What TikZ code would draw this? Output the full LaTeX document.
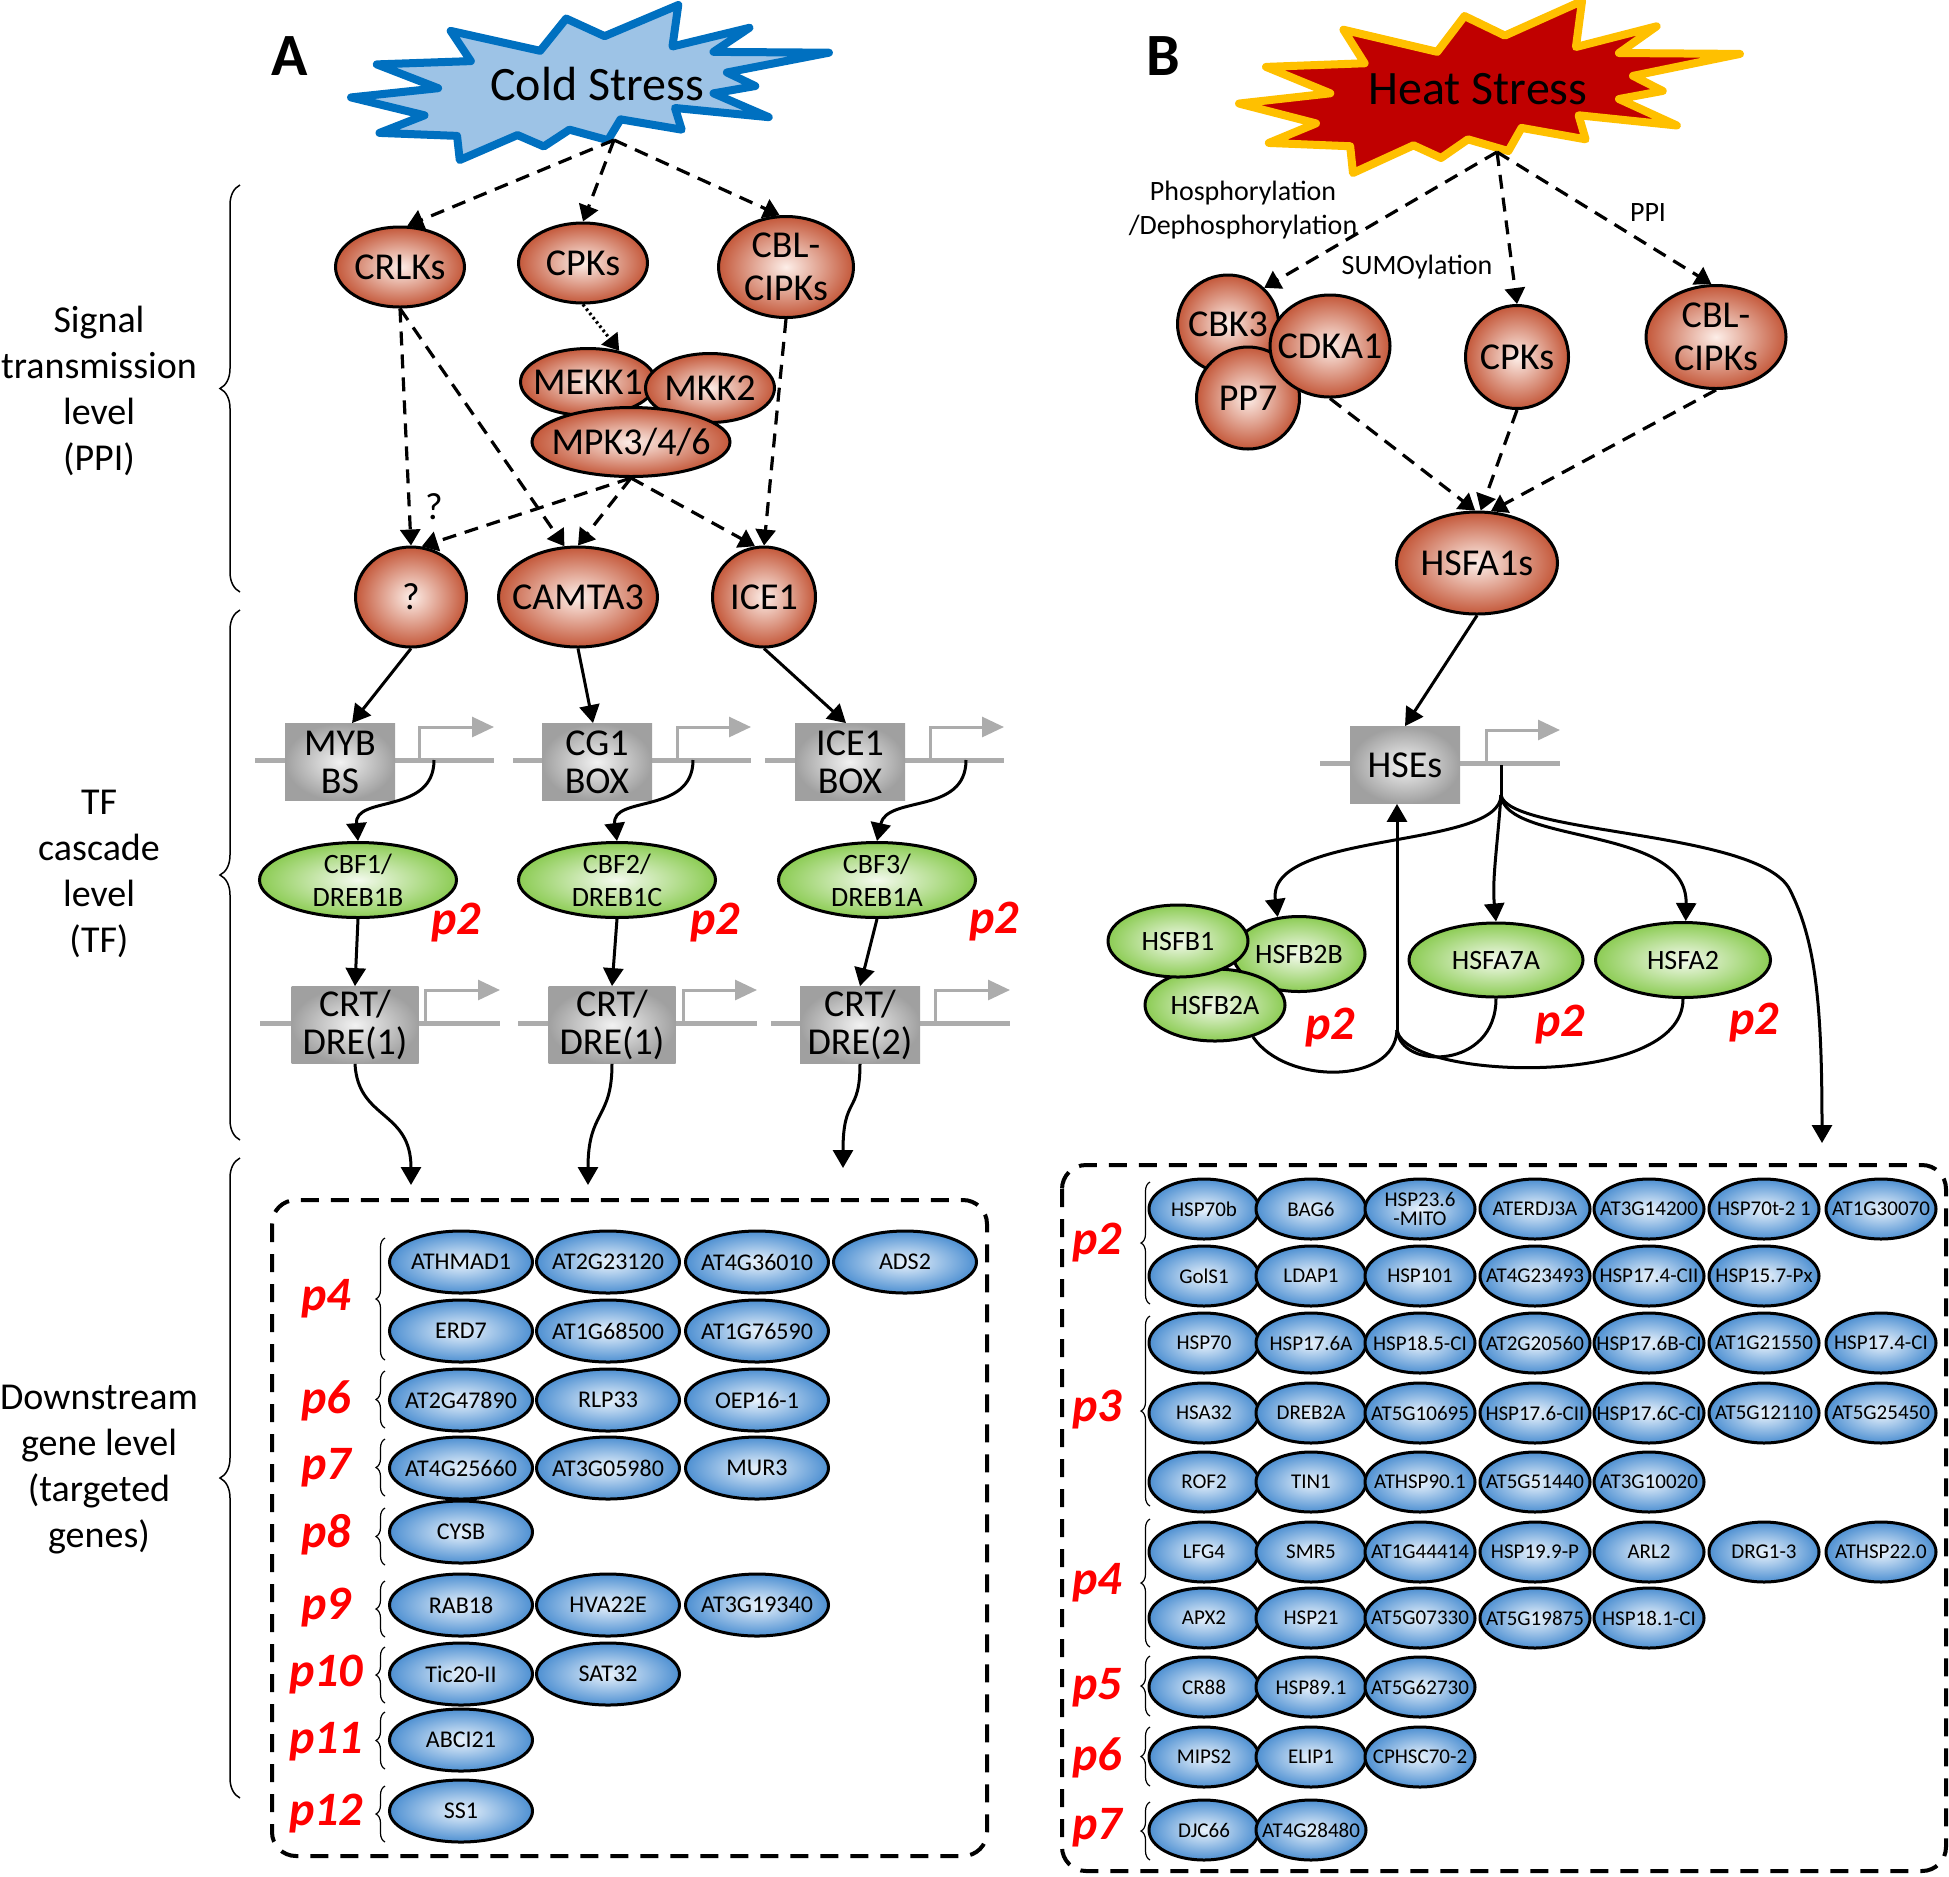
\documentclass[tikz,border=0pt]{standalone}
\usepackage{fontspec}
\setmainfont{Carlito}
\usetikzlibrary{shapes.geometric,arrows.meta,decorations.pathreplacing,calc}
\definecolor{redout}{RGB}{196,88,58}
\definecolor{redin}{RGB}{253,238,232}
\definecolor{grnout}{RGB}{140,204,84}
\definecolor{grnin}{RGB}{244,250,238}
\definecolor{bluout}{RGB}{78,144,210}
\definecolor{bluin}{RGB}{234,243,252}
\definecolor{boxout}{RGB}{160,160,160}
\definecolor{boxin}{RGB}{242,242,242}
\definecolor{sitegray}{RGB}{172,172,172}
\definecolor{coldfill}{RGB}{157,195,230}
\definecolor{coldline}{RGB}{0,112,192}
\definecolor{heatfill}{RGB}{192,0,0}
\definecolor{heatline}{RGB}{255,192,0}
\definecolor{pred}{RGB}{255,0,0}
\newcommand{\explosion}[5]{
	\begin{scope}[shift={(#1,#2)}, xscale=#3/100, yscale=#4/100]
	\draw[#5] (45.01,8.74) -- (39.57,29.55) -- (20.85,16.71) -- (25.07,36.19) -- (5.39,38.31) -- (18.23,53.67) -- (0,59.62) -- (15.37,71.16) -- (5.95,82.52) -- (22.19,84.44) -- (22.75,100) -- (34.83,83.91) -- (40.33,91.26) -- (45.70,80.42) -- (53.76,87.23) -- (56.39,73.77) -- (69.18,80.42) -- (67.78,66.44) -- (87.40,72.37) -- (75.84,56.99) -- (84.58,52.27) -- (78.64,43.53) -- (100,30.76) -- (75.84,30.24) -- (83.36,14.69) -- (67.25,26.75) -- (68.47,0) -- (53.06,20.10) -- cycle;
	\end{scope}
}
\newcommand{\promoter}[4]{
	\draw[siteline] (#1,#3) -- (#2,#3);
	\draw[promarrow] (#4,#3) -- (#4,#3-33) -- (#2,#3-33);
}
\newcommand{\geneL}[4]{\node[gene, sz={143}{62}, label={[genetextL]center:{#4}}] (#1) at (#2,#3) {};}
\newcommand{\geneR}[4]{\node[gene, sz={110}{60}, label={[genetextR]center:{#4}}] (#1) at (#2,#3) {};}
\tikzset{
	kinase/.style={ellipse, draw=black, line width=1.5pt, inner color=redin, outer color=redout, inner sep=0pt},
	tfnode/.style={ellipse, draw=black, line width=1.5pt, inner color=grnin, outer color=grnout, inner sep=0pt},
	gene/.style={ellipse, draw=black, line width=1.5pt, inner color=bluin, outer color=bluout, inner sep=0pt},
	sitebox/.style={rectangle, inner color=boxin, outer color=boxout, inner sep=0pt, align=center, font=\fontsize{19}{19}\selectfont},
	sz/.style 2 args={minimum width=#1*0.5pt, minimum height=#2*0.5pt},
	kintext/.style={font=\fontsize{19}{21.5}\selectfont, align=center},
	tftext/.style={font=\fontsize{14}{16.5}\selectfont, align=center},
	genetextL/.style={font=\fontsize{12}{12}\selectfont},
	genetextR/.style={font=\fontsize{10.5}{9.5}\selectfont, align=center},
	plabel/.style={font=\fontsize{24}{24}\selectfont\bfseries\itshape, text=pred},
	dasharrow/.style={line width=1.6pt, dash pattern=on 7pt off 4.5pt, -{Triangle[length=8pt,width=10pt]}},
	dotarrow/.style={line width=1.6pt, dash pattern=on 1.2pt off 1.5pt, -{Triangle[length=8pt,width=10pt]}},
	solidarrow/.style={line width=1.5pt, -{Triangle[length=9pt,width=10pt]}},
	siteline/.style={sitegray, line width=2.5pt},
	promarrow/.style={sitegray, line width=1.5pt, -{Triangle[length=11pt,width=10pt]}},
	dashbox/.style={line width=2pt, dash pattern=on 9pt off 6pt, rounded corners=12pt},
	levelbrace/.style={decorate, decoration={brace, amplitude=10pt}, line width=0.75pt},
	pbrace/.style={decorate, decoration={brace, amplitude=4.5pt}, line width=0.6pt},
	leveltext/.style={font=\fontsize{19}{23}\selectfont, align=center},
	annot/.style={font=\fontsize{14}{17}\selectfont, align=center},
}

\begin{document}
\begin{tikzpicture}[x=0.5pt,y=-0.5pt]
	\useasboundingbox (0,0) rectangle (1949,1876);

	% levels
	\node[leveltext] (lvsignal) at (99,391) {Signal\\transmission\\level\\(PPI)};
	\node[leveltext] (lvtf) at (99,874) {TF\\cascade\\level\\(TF)};
	\node[leveltext] (lvgene) at (99,1470) {Downstream\\gene level\\(targeted\\genes)};
	\draw[levelbrace] (240,592) -- (240,185);
	\draw[levelbrace] (240,1140) -- (240,610);
	\draw[levelbrace] (240,1798) -- (240,1158);

	% panel A
	\node[font=\fontsize{30}{30}\selectfont\bfseries] (labA) at (290,56) {A};
	\explosion{351}{5}{478}{155}{fill=coldfill, draw=coldline, line width=4pt, line join=round}
	\node[font=\fontsize{24}{24}\selectfont] (cold) at (597,84) {Cold Stress};
	\coordinate (coldout) at (614,140);

	\node[kinase, sz={129}{80}, label={[kintext]center:CRLKs}] (crlks) at (400,267) {};
	\node[kinase, sz={129}{80}, label={[kintext]center:CPKs}] (cpksL) at (583,263) {};
	\node[kinase, sz={135}{101}, label={[kintext]center:{CBL-\\CIPKs}}] (cblL) at (786,267) {};
	\node[kinase, sz={135}{67}, label={[kintext]center:MEKK1}] (mekk) at (588,382) {};
	\node[kinase, sz={129}{69}, label={[kintext]center:MKK2}] (mkk) at (710,388) {};
	\node[kinase, sz={198}{69}, label={[kintext]center:MPK3/4/6}] (mpk) at (631,442) {};
	\node[kinase, sz={111}{100}, label={[kintext]center:?}] (unk) at (411,597) {};
	\node[kinase, sz={159}{100}, label={[kintext]center:CAMTA3}] (camta) at (578,597) {};
	\node[kinase, sz={103}{100}, label={[kintext]center:ICE1}] (ice) at (764,597) {};
	\node[font=\fontsize{19}{19}\selectfont] (qmark) at (434,507) {?};

	\draw[dasharrow] (coldout) -- (crlks.80);
	\draw[dasharrow] (coldout) -- (cpksL.north);
	\draw[dasharrow] (coldout) -- (cblL.97);
	\draw[dasharrow] (crlks.south) -- (unk.north);
	\draw[dasharrow] (crlks.south) -- (camta.105);
	\draw[dotarrow] (cpksL.south) -- (mekk.45);
	\draw[dasharrow] (mpk.south) -- (unk.78);
	\draw[dasharrow] (mpk.south) -- (camta.north);
	\draw[dasharrow] (mpk.south) -- (ice.100);
	\draw[dasharrow] (cblL.south) -- (ice.north);

	\promoter{255}{494}{760}{419}
	\promoter{513}{751}{760}{677}
	\promoter{765}{1004}{760}{930}
	\promoter{260}{500}{1023}{425}
	\promoter{518}{757}{1023}{683}
	\promoter{771}{1010}{1023}{935}
	\node[sitebox, sz={110}{77}] (mybbox) at (340,762) {MYB\\BS};
	\node[sitebox, sz={110}{77}] (cg1box) at (597,762) {CG1\\BOX};
	\node[sitebox, sz={110}{77}] (icebox) at (850,762) {ICE1\\BOX};
	\node[sitebox, sz={127}{77}] (crt1) at (355,1025) {CRT/\\DRE(1)};
	\node[sitebox, sz={127}{77}] (crt2) at (612,1025) {CRT/\\DRE(1)};
	\node[sitebox, sz={120}{77}] (crt3) at (860,1025) {CRT/\\DRE(2)};
	\coordinate (mybout) at (434,760);
	\coordinate (cg1out) at (693,760);
	\coordinate (iceout) at (966,760);

	\node[tfnode, sz={197}{75}, label={[tftext]center:{CBF1/\\DREB1B}}] (cbf1) at (358,880) {};
	\node[tfnode, sz={197}{75}, label={[tftext]center:{CBF2/\\DREB1C}}] (cbf2) at (617,880) {};
	\node[tfnode, sz={197}{75}, label={[tftext]center:{CBF3/\\DREB1A}}] (cbf3) at (877,880) {};
	\node[plabel] (pcbf1) at (456,923) {p2};
	\node[plabel] (pcbf2) at (715,923) {p2};
	\node[plabel] (pcbf3) at (994,922) {p2};

	\draw[solidarrow] (unk.south) -- ([xshift=6pt]mybbox.north);
	\draw[solidarrow] (camta.south) -- ([xshift=-2pt]cg1box.north);
	\draw[solidarrow] (ice.south) -- ([xshift=-2pt]icebox.north);
	\draw[solidarrow] (mybout) .. controls (434,815) and (354,795) .. (cbf1.north);
	\draw[solidarrow] (cg1out) .. controls (693,815) and (611,795) .. (cbf2.north);
	\draw[solidarrow] (iceout) .. controls (966,815) and (887,795) .. (cbf3.north);
	\draw[solidarrow] (cbf1.south) -- (crt1.north);
	\draw[solidarrow] (cbf2.south) -- (crt2.north);
	\draw[solidarrow] (cbf3.south) -- (crt3.north);

	\coordinate (dA1) at (411,1185);
	\coordinate (dA2) at (588,1185);
	\coordinate (dA3) at (843,1168);
	\draw[solidarrow] (crt1.south) .. controls (358,1120) and (411,1110) .. (dA1);
	\draw[solidarrow] (crt2.south) .. controls (612,1120) and (588,1110) .. (dA2);
	\draw[solidarrow] (crt3.south) .. controls (860,1115) and (843,1095) .. (dA3);

	\draw[dashbox] (272,1200) rectangle (987,1856);
	\geneL{ga1}{461}{1262}{ATHMAD1}
	\geneL{ga2}{608}{1262}{AT2G23120}
	\geneL{ga3}{757}{1262}{AT4G36010}
	\geneL{ga4}{905}{1262}{ADS2}
	\geneL{ga5}{461}{1331}{ERD7}
	\geneL{ga6}{608}{1331}{AT1G68500}
	\geneL{ga7}{757}{1331}{AT1G76590}
	\geneL{ga8}{461}{1400}{AT2G47890}
	\geneL{ga9}{608}{1400}{RLP33}
	\geneL{ga10}{757}{1400}{OEP16-1}
	\geneL{ga11}{461}{1468}{AT4G25660}
	\geneL{ga12}{608}{1468}{AT3G05980}
	\geneL{ga13}{757}{1468}{MUR3}
	\geneL{ga14}{461}{1532}{CYSB}
	\geneL{ga15}{461}{1605}{RAB18}
	\geneL{ga16}{608}{1605}{HVA22E}
	\geneL{ga17}{757}{1605}{AT3G19340}
	\geneL{ga18}{461}{1674}{Tic20-II}
	\geneL{ga19}{608}{1674}{SAT32}
	\geneL{ga20}{461}{1740}{ABCI21}
	\geneL{ga21}{461}{1811}{SS1}

	\node[plabel] (pa4) at (326,1299) {p4};
	\node[plabel] (pa6) at (326,1401) {p6};
	\node[plabel] (pa7) at (326,1468) {p7};
	\node[plabel] (pa8) at (326,1535) {p8};
	\node[plabel] (pa9) at (326,1608) {p9};
	\node[plabel] (pa10) at (326,1675) {p10};
	\node[plabel] (pa11) at (326,1742) {p11};
	\node[plabel] (pa12) at (326,1814) {p12};
	\draw[pbrace] (385,1360) -- (385,1238);
	\draw[pbrace] (385,1428) -- (385,1371);
	\draw[pbrace] (385,1496) -- (385,1439);
	\draw[pbrace] (385,1565) -- (385,1508);
	\draw[pbrace] (385,1637) -- (385,1581);
	\draw[pbrace] (385,1703) -- (385,1647);
	\draw[pbrace] (385,1769) -- (385,1712);
	\draw[pbrace] (385,1842) -- (385,1786);

	% panel B
	\node[font=\fontsize{30}{30}\selectfont\bfseries] (labB) at (1163,56) {B};
	\explosion{1239}{1}{501}{172}{fill=heatfill, draw=heatline, line width=4pt, line join=round}
	\node[font=\fontsize{24}{24}\selectfont] (heat) at (1478,89) {Heat Stress};
	\coordinate (heatout) at (1497,152);

	\node[annot] (phos) at (1243,210) {Phosphorylation\\/Dephosphorylation};
	\node[annot] (sumo) at (1417,267) {SUMOylation};
	\node[annot] (ppi) at (1648,213) {PPI};

	\node[kinase, sz={101}{98}, label={[kintext]center:CBK3}] (cbk) at (1228,324) {};
	\node[kinase, sz={103}{102}, label={[kintext]center:PP7}] (pp) at (1248,398) {};
	\node[kinase, sz={120}{102}, label={[kintext]center:CDKA1}] (cdka) at (1330,346) {};
	\node[kinase, sz={103}{103}, label={[kintext]center:CPKs}] (cpksR) at (1517,357) {};
	\node[kinase, sz={140}{103}, label={[kintext]center:{CBL-\\CIPKs}}] (cblR) at (1716,337) {};
	\node[kinase, sz={161}{102}, label={[kintext]center:HSFA1s}] (hsfa1) at (1477,563) {};

	\draw[dasharrow] (heatout) -- (cbk.45);
	\draw[dasharrow] (heatout) -- (cpksR.north);
	\draw[dasharrow] (heatout) -- (cblR.95);
	\draw[dasharrow] (cdka.south) -- (hsfa1.92);
	\draw[dasharrow] (cpksR.south) -- (hsfa1.86);
	\draw[dasharrow] (cblR.south) -- (hsfa1.75);

	\promoter{1320}{1560}{763}{1486}
	\node[sitebox, sz={110}{77}] (hsesbox) at (1405,765) {HSEs};
	\draw[solidarrow] (hsfa1.south) -- (hsesbox.north);

	\node[tfnode, sz={132}{75}, label={[tftext]center:HSFB2B}] (hsfb2b) at (1299,954) {};
	\node[tfnode, sz={140}{72}, label={[tftext]center:HSFB2A}] (hsfb2a) at (1215,1005) {};
	\node[tfnode, sz={140}{72}, label={[tftext]center:HSFB1}] (hsfb1) at (1178,941) {};
	\node[tfnode, sz={174}{74}, label={[tftext]center:HSFA7A}] (hsfa7a) at (1496,960) {};
	\node[tfnode, sz={175}{75}, label={[tftext]center:HSFA2}] (hsfa2) at (1683,960) {};
	\node[plabel] (phsfb) at (1330,1028) {p2};
	\node[plabel] (phsfa7) at (1560,1025) {p2};
	\node[plabel] (phsfa2) at (1754,1023) {p2};

	\coordinate (hsesout) at (1501,765);
	\coordinate (fork) at (1501,795);
	\coordinate (dB) at (1822,1143);
	\coordinate (upjoin) at (1397,1030);
	\draw[line width=1.5pt] (hsesout) -- (fork);
	\draw[solidarrow] (fork) .. controls (1501,850) and (1266,830) .. (hsfb2b.120);
	\draw[solidarrow] (fork) .. controls (1497,850) and (1492,880) .. (hsfa7a.north);
	\draw[solidarrow] (fork) .. controls (1505,845) and (1688,825) .. (hsfa2.86);
	\draw[solidarrow] (fork) .. controls (1508,835) and (1760,830) .. (1790,890) .. controls (1815,940) and (1822,1000) .. (dB);
	\draw[line width=1.5pt] (hsfb2a.-40) .. controls (1285,1085) and (1395,1085) .. (upjoin);
	\draw[line width=1.5pt] (hsfa7a.south) .. controls (1496,1070) and (1400,1070) .. (upjoin);
	\draw[line width=1.5pt] (hsfa2.south) .. controls (1683,1090) and (1405,1080) .. (upjoin);
	\draw[solidarrow] (upjoin) -- ([xshift=-4pt]hsesbox.south);

	\draw[dashbox] (1062,1165) rectangle (1946,1871);
	\geneR{gb1}{1204}{1209}{HSP70b}
	\geneR{gb2}{1311}{1209}{BAG6}
	\geneR{gb3}{1420}{1209}{HSP23.6\\-MITO}
	\geneR{gb4}{1535}{1209}{ATERDJ3A}
	\geneR{gb5}{1649}{1209}{AT3G14200}
	\geneR{gb6}{1764}{1209}{HSP70t-2 1}
	\geneR{gb7}{1881}{1209}{AT1G30070}
	\geneR{gb8}{1204}{1276}{GolS1}
	\geneR{gb9}{1311}{1276}{LDAP1}
	\geneR{gb10}{1420}{1276}{HSP101}
	\geneR{gb11}{1535}{1276}{AT4G23493}
	\geneR{gb12}{1649}{1276}{HSP17.4-CII}
	\geneR{gb13}{1764}{1276}{HSP15.7-Px}
	\geneR{gb14}{1204}{1343}{HSP70}
	\geneR{gb15}{1311}{1343}{HSP17.6A}
	\geneR{gb16}{1420}{1343}{HSP18.5-CI}
	\geneR{gb17}{1535}{1343}{AT2G20560}
	\geneR{gb18}{1649}{1343}{HSP17.6B-CI}
	\geneR{gb19}{1764}{1343}{AT1G21550}
	\geneR{gb20}{1881}{1343}{HSP17.4-CI}
	\geneR{gb21}{1204}{1413}{HSA32}
	\geneR{gb22}{1311}{1413}{DREB2A}
	\geneR{gb23}{1420}{1413}{AT5G10695}
	\geneR{gb24}{1535}{1413}{HSP17.6-CII}
	\geneR{gb25}{1649}{1413}{HSP17.6C-CI}
	\geneR{gb26}{1764}{1413}{AT5G12110}
	\geneR{gb27}{1881}{1413}{AT5G25450}
	\geneR{gb28}{1204}{1482}{ROF2}
	\geneR{gb29}{1311}{1482}{TIN1}
	\geneR{gb30}{1420}{1482}{ATHSP90.1}
	\geneR{gb31}{1535}{1482}{AT5G51440}
	\geneR{gb32}{1649}{1482}{AT3G10020}
	\geneR{gb33}{1204}{1552}{LFG4}
	\geneR{gb34}{1311}{1552}{SMR5}
	\geneR{gb35}{1420}{1552}{AT1G44414}
	\geneR{gb36}{1535}{1552}{HSP19.9-P}
	\geneR{gb37}{1649}{1552}{ARL2}
	\geneR{gb38}{1764}{1552}{DRG1-3}
	\geneR{gb39}{1881}{1552}{ATHSP22.0}
	\geneR{gb40}{1204}{1618}{APX2}
	\geneR{gb41}{1311}{1618}{HSP21}
	\geneR{gb42}{1420}{1618}{AT5G07330}
	\geneR{gb43}{1535}{1618}{AT5G19875}
	\geneR{gb44}{1649}{1618}{HSP18.1-CI}
	\geneR{gb45}{1204}{1687}{CR88}
	\geneR{gb46}{1311}{1687}{HSP89.1}
	\geneR{gb47}{1420}{1687}{AT5G62730}
	\geneR{gb48}{1204}{1757}{MIPS2}
	\geneR{gb49}{1311}{1757}{ELIP1}
	\geneR{gb50}{1420}{1757}{CPHSC70-2}
	\geneR{gb51}{1204}{1830}{DJC66}
	\geneR{gb52}{1311}{1830}{AT4G28480}

	\node[plabel] (pb2) at (1097,1243) {p2};
	\node[plabel] (pb3) at (1097,1410) {p3};
	\node[plabel] (pb4) at (1097,1583) {p4};
	\node[plabel] (pb5) at (1097,1688) {p5};
	\node[plabel] (pb6) at (1097,1758) {p6};
	\node[plabel] (pb7) at (1097,1828) {p7};
	\draw[pbrace] (1150,1304) -- (1150,1182);
	\draw[pbrace] (1150,1506) -- (1150,1316);
	\draw[pbrace] (1150,1647) -- (1150,1519);
	\draw[pbrace] (1150,1716) -- (1150,1656);
	\draw[pbrace] (1150,1786) -- (1150,1727);
	\draw[pbrace] (1150,1860) -- (1150,1802);
\end{tikzpicture}
\end{document}
